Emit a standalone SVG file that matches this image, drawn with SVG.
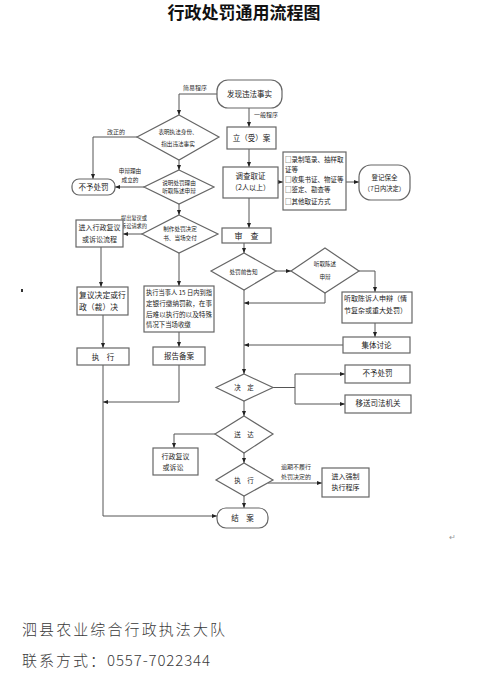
<svg xmlns="http://www.w3.org/2000/svg" width="488" height="675" viewBox="0 0 488 675">
<style>
text{font-family:"Noto Sans CJK SC","Liberation Sans",sans-serif;fill:#222}
.b{fill:#fff;stroke:#666;stroke-width:1.2}
.t{font-size:7.5px;text-anchor:middle}
.s{font-size:5.6px;text-anchor:middle}
.l{font-size:6px;text-anchor:middle;fill:#333}
.e{font-size:6.5px}
.c{fill:none;stroke:#555;stroke-width:1}
.f{font-size:15px;fill:#3a3a3a;font-weight:300}
</style>
<defs>
<marker id="a" viewBox="0 0 10 10" refX="10" refY="5" markerWidth="5" markerHeight="5" orient="auto" markerUnits="userSpaceOnUse"><path d="M0,1 L10,5 L0,9z" fill="#222"/></marker>
</defs>
<rect width="488" height="675" fill="#fff"/>
<text x="244" y="19" style="font-size:17px;font-weight:700;text-anchor:middle;fill:#111">行政处罚通用流程图</text>

<g id="connectors">
<path class="c" d="M217,94 H179 V115" marker-end="url(#a)"/>
<path class="c" d="M249,108 V127" marker-end="url(#a)"/>
<path class="c" d="M249,149 V167" marker-end="url(#a)"/>
<path class="c" d="M278,182 H283" marker-end="url(#a)"/>
<path class="c" d="M346,182 H359" marker-end="url(#a)"/>
<path class="c" d="M249,198 V228" marker-end="url(#a)"/>
<path class="c" d="M244,243 V253" marker-end="url(#a)"/>
<path class="c" d="M276,271 H291" marker-end="url(#a)"/>
<path class="c" d="M359,271 H375 V292" marker-end="url(#a)"/>
<path class="c" d="M325,293 V303 H244" marker-end="url(#a)"/>
<path class="c" d="M375,323 V337" marker-end="url(#a)"/>
<path class="c" d="M343,345 H244" marker-end="url(#a)"/>
<path class="c" d="M244,290 V374" marker-end="url(#a)"/>
<path class="c" d="M273,387.5 H295 M295,374 V404"/>
<path class="c" d="M295,374 H345" marker-end="url(#a)"/>
<path class="c" d="M295,404 H345" marker-end="url(#a)"/>
<path class="c" d="M244,401 V416" marker-end="url(#a)"/>
<path class="c" d="M215,434 H174 V448" marker-end="url(#a)"/>
<path class="c" d="M244,453 V463" marker-end="url(#a)"/>
<path class="c" d="M268,483 H322" marker-end="url(#a)"/>
<path class="c" d="M244,496 V508" marker-end="url(#a)"/>
<path class="c" d="M137,137 H93 V179" marker-end="url(#a)"/>
<path class="c" d="M144,187 H115" marker-end="url(#a)"/>
<path class="c" d="M179,160 V170" marker-end="url(#a)"/>
<path class="c" d="M179,204 V215" marker-end="url(#a)"/>
<path class="c" d="M142,234 H123" marker-end="url(#a)"/>
<path class="c" d="M101,247 V287" marker-end="url(#a)"/>
<path class="c" d="M179,253 V286" marker-end="url(#a)"/>
<path class="c" d="M179,332 V347" marker-end="url(#a)"/>
<path class="c" d="M103,315 V348" marker-end="url(#a)"/>
<path class="c" d="M179,365 V402 H103" marker-end="url(#a)"/>
<path class="c" d="M103,365 V516 H217" marker-end="url(#a)"/>
<text class="l" x="195" y="90">简易程序</text>
<text class="l" x="266" y="117">一般程序</text>
<text class="l" x="116" y="134">改正的</text>
<text class="s" x="130" y="173">申辩理由</text>
<text class="s" x="130" y="182">成立的</text>
<text class="s" x="134" y="220" style="font-size:5.2px">提出复议或</text>
<text class="s" x="134" y="228" style="font-size:5.2px">诉讼请求的</text>
<text class="l" x="296" y="469">逾期不履行</text>
<text class="l" x="296" y="479">处罚决定的</text>
</g>

<g id="n_start"><rect class="b" x="217" y="80" width="65" height="28" rx="11"/><text class="t" x="249.5" y="97">发现违法事实</text></g>
<g id="n_lian"><rect class="b" x="227" y="127" width="49" height="22"/><text class="t" x="251.5" y="141">立（受）案</text></g>
<g id="n_diaocha"><rect class="b" x="223" y="167" width="55" height="31"/><text class="t" x="250.5" y="179">调查取证</text><text class="t" x="250.5" y="190" style="font-size:7px">（2人以上）</text></g>
<g id="n_evid"><rect class="b" x="283" y="152" width="63" height="58"/>
<text class="e" x="285" y="162">□录制笔录、抽样取</text>
<text class="e" x="285" y="172">证等</text>
<text class="e" x="285" y="182">□收集书证、物证等</text>
<text class="e" x="285" y="192">□鉴定、勘查等</text>
<text class="e" x="285" y="204">□其他取证方式</text></g>
<g id="n_baoquan"><rect class="b" x="359" y="165" width="51" height="35" rx="12"/><text class="t" x="384.5" y="180" style="font-size:6.5px">登记保全</text><text class="t" x="384.5" y="191" style="font-size:6.3px">（7日内决定）</text></g>
<g id="n_d1"><polygon class="b" points="179,115 219,137 179,160 137,137"/><text class="s" x="178" y="134">表明执法身份、</text><text class="s" x="178" y="146">指出违法事实</text></g>
<g id="n_buyu1"><rect class="b" x="72" y="179" width="43" height="16" rx="7"/><text class="t" x="93.5" y="190">不予处罚</text></g>
<g id="n_d2"><polygon class="b" points="179,170 214,187 179,204 144,187"/><text class="s" x="179" y="185">说明处罚理由</text><text class="s" x="179" y="193">听取陈述申辩</text></g>
<g id="n_d3"><polygon class="b" points="179,215 218,234 179,253 142,234"/><text class="s" x="180" y="231">制作处罚决定</text><text class="s" x="180" y="240">书、当场交付</text></g>
<g id="n_fuyi_in"><rect class="b" x="76" y="220" width="47" height="27"/><text class="t" x="99.5" y="230" style="font-size:7px">进入行政复议</text><text class="t" x="99.5" y="242" style="font-size:7px">或诉讼流程</text></g>
<g id="n_fuyi_jd"><rect class="b" x="77" y="287" width="51" height="28"/><text x="79" y="298" style="font-size:7.8px">复议决定或行</text><text x="79" y="310" style="font-size:7.8px">政（裁）决</text></g>
<g id="n_dangchang"><rect class="b" x="144" y="286" width="70" height="46"/>
<text x="146" y="295" style="font-size:6.4px" textLength="66" lengthAdjust="spacingAndGlyphs">执行当事人 15 日内到指</text>
<text x="146" y="305.5" style="font-size:6.4px" textLength="66" lengthAdjust="spacingAndGlyphs">定银行缴纳罚款，在事</text>
<text x="146" y="316.5" style="font-size:6.4px" textLength="66" lengthAdjust="spacingAndGlyphs">后难以执行的以及特殊</text>
<text x="146" y="327" style="font-size:6.4px">情况下当场收缴</text></g>
<g id="n_zhixing1"><rect class="b" x="77" y="348" width="52" height="17"/><text class="t" x="103" y="359.5">执　行</text></g>
<g id="n_baogao"><rect class="b" x="153" y="347" width="52" height="18"/><text class="t" x="179" y="359">报告备案</text></g>
<g id="n_shencha"><rect class="b" x="222" y="228" width="49" height="15"/><text class="t" x="246.5" y="238.5" style="font-size:8px">审　查</text></g>
<g id="n_d4"><polygon class="b" points="244,253 276,271 244,290 211,271"/><text class="s" x="243.5" y="273.5">处罚前告知</text></g>
<g id="n_d5"><polygon class="b" points="325,248 359,271 325,293 291,271"/><text class="s" x="325" y="266">听取陈述</text><text class="s" x="325" y="279">申辩</text></g>
<g id="n_shenbian"><rect class="b" x="342" y="292" width="70" height="31"/><text x="344" y="301" style="font-size:7px">听取陈诉人申辩（情</text><text x="344" y="313" style="font-size:7px">节复杂或重大处罚）</text></g>
<g id="n_jiti"><rect class="b" x="343" y="337" width="67" height="16"/><text class="t" x="376.5" y="348">集体讨论</text></g>
<g id="n_d6"><polygon class="b" points="244,374 273,387.5 244,401 216,387.5"/><text class="t" x="244" y="390" style="font-size:6.5px">决　定</text></g>
<g id="n_buyu2"><rect class="b" x="345" y="365" width="65" height="18"/><text class="t" x="377.5" y="375.5">不予处罚</text></g>
<g id="n_yisong"><rect class="b" x="345" y="395" width="66" height="18"/><text class="t" x="378" y="405.5">移送司法机关</text></g>
<g id="n_d7"><polygon class="b" points="244,416 273,434 244,453 215,434"/><text class="t" x="244" y="437" style="font-size:6.5px">送　达</text></g>
<g id="n_fuyi2"><rect class="b" x="153" y="448" width="45" height="27"/><text class="t" x="175.5" y="459" style="font-size:7px">行政复议</text><text class="t" x="173" y="470" style="font-size:7px">或诉讼</text></g>
<g id="n_d8"><polygon class="b" points="244,463 273,480 244,496 216,480"/><text class="t" x="244" y="482.5" style="font-size:6.5px">执　行</text></g>
<g id="n_qiangzhi"><rect class="b" x="322" y="468" width="47" height="29"/><text class="t" x="345.5" y="479" style="font-size:7px">进入强制</text><text class="t" x="345.5" y="490" style="font-size:7px">执行程序</text></g>
<g id="n_end"><rect class="b" x="217" y="508" width="51" height="20" rx="9"/><text class="t" x="242.5" y="521">结　案</text></g>

<rect x="21" y="289" width="2" height="3" fill="#333"/>
<text x="449" y="540" style="font-size:8px;fill:#999">↵</text>

<text class="f" x="22" y="635" textLength="203" lengthAdjust="spacing">泗县农业综合行政执法大队</text>
<text class="f" x="22" y="666" textLength="83" lengthAdjust="spacing">联系方式：</text>
<text class="f" x="107" y="666" textLength="103" lengthAdjust="spacing">0557-7022344</text>
</svg>
